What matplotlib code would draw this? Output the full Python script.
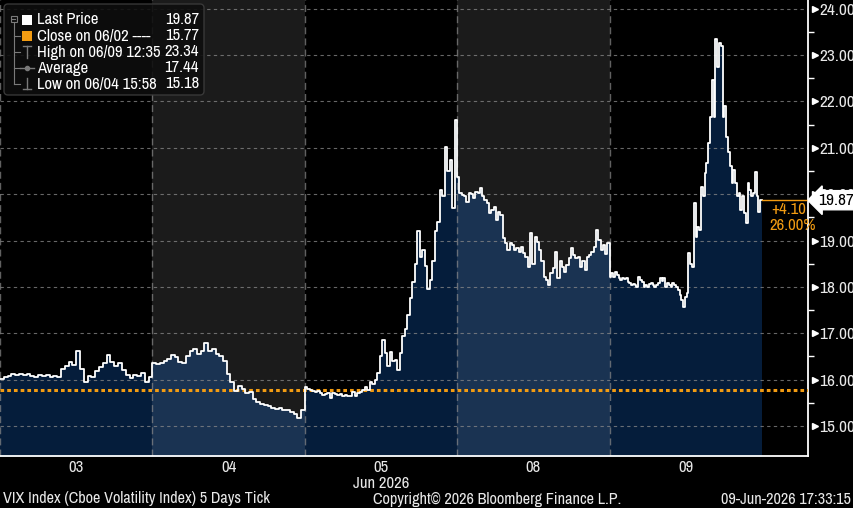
import matplotlib.pyplot as plt
import numpy as np
import matplotlib.transforms as mtransforms
from matplotlib.patches import FancyBboxPatch, Rectangle

plt.rcParams['font.family'] = ['Archivo Narrow', 'Liberation Sans', 'DejaVu Sans']

# --- data ---
day_labels = ['03', '04', '05', '08', '09']
month_label = 'Jun 2026'

day03 = [16.02, 16.05, 16.08, 16.12, 16.10, 16.13, 16.10, 16.11, 16.08, 16.06,
         16.09, 16.07, 16.10, 16.05, 16.07, 16.06, 16.22, 16.30, 16.38, 16.32,
         16.62, 16.22, 15.95, 16.08, 16.05, 16.18, 16.28, 16.35, 16.52, 16.38,
         16.30, 16.36, 16.20, 16.10, 16.03, 16.10, 16.08, 16.15, 15.95, 16.05]
day04 = [16.36, 16.33, 16.35, 16.40, 16.45, 16.52, 16.48, 16.38, 16.35, 16.50,
         16.62, 16.65, 16.55, 16.62, 16.78, 16.62, 16.65, 16.55, 16.50, 16.40,
         16.12, 15.95, 15.75, 15.85, 15.80, 15.72, 15.74, 15.58, 15.52, 15.48,
         15.45, 15.42, 15.38, 15.36, 15.38, 15.34, 15.35, 15.30, 15.26, 15.18,
         15.35]
day05 = [15.84, 15.80, 15.78, 15.75, 15.74, 15.76, 15.70, 15.67, 15.69, 15.72,
         15.60, 15.70, 15.68, 15.66, 15.68, 15.64, 15.66, 15.64, 15.65, 15.74,
         15.65, 15.70, 15.74, 15.78, 15.84, 15.78, 15.95, 15.91, 16.00, 16.14,
         16.50, 16.86, 16.57, 16.30, 16.60, 16.40, 16.42, 16.20, 16.57, 16.95,
         17.10, 17.40, 17.75, 18.10, 18.50, 19.20, 18.65, 18.80, 18.45, 17.95,
         18.15, 18.55, 19.20, 19.40, 20.10, 19.96, 21.02, 20.50, 20.74, 19.70,
         21.60]
day08 = [20.37, 20.03, 19.98, 19.95, 19.84, 20.02, 20.00, 19.92, 20.05, 20.03,
         20.14, 19.95, 19.88, 19.82, 19.60, 19.66, 19.73, 19.45, 19.62, 19.56,
         19.05, 18.95, 18.80, 18.95, 18.90, 18.80, 18.84, 18.76, 18.87, 18.73,
         18.65, 18.43, 19.17, 18.50, 19.08, 18.97, 18.80, 18.55, 18.22, 18.15,
         18.05, 18.30, 18.40, 18.76, 18.20, 18.55, 18.43, 18.33, 18.48, 18.62,
         18.84, 18.69, 18.62, 18.65, 18.43, 18.55, 18.37, 18.65, 18.69, 18.76,
         18.87, 19.23, 19.02, 18.80, 18.90, 18.70, 18.95]
day09 = [18.22, 18.30, 18.22, 18.33, 18.26, 18.19, 18.15, 18.19, 18.17, 18.19,
         18.10, 18.08, 18.04, 18.06, 18.04, 18.00, 18.22, 18.15, 18.10, 18.00,
         18.04, 18.00, 18.06, 18.08, 18.04, 18.00, 18.03, 18.08, 18.19, 18.12,
         18.19, 18.00, 18.08, 18.03, 18.00, 18.08, 18.04, 18.00, 17.93, 17.83,
         17.72, 17.57, 17.79, 17.87,
         18.73, 18.50, 18.43, 19.82, 19.08, 19.30, 19.23, 20.16, 19.95, 20.46,
         20.68, 21.10, 21.67, 22.47, 21.67, 23.34, 22.75, 23.27, 23.20, 21.67,
         21.90, 21.24, 20.90, 20.60, 20.25, 20.53, 20.25, 19.95, 20.03, 19.66,
         19.95, 19.60, 19.38, 20.25, 20.10, 19.95, 20.03, 20.48, 19.95, 19.62,
         19.87]
days = [day03, day04, day05, day08, day09]
shaded = [False, True, False, True, False]

close_price = 15.77
last_price = 19.87
change_abs = '+4.10'
change_pct = '26.00%'
y_ticks = [15, 16, 17, 18, 19, 20, 21, 22, 23, 24]

legend_rows = [('Last Price', '19.87'),
               ('Close on 06/02 ----', '15.77'),
               ('High on 06/09 12:35', '23.34'),
               ('Average', '17.44'),
               ('Low on 06/04 15:58', '15.18')]
footer_left = 'VIX Index (Cboe Volatility Index) 5 Days Tick'
footer_mid = 'Copyright\u00a9 2026 Bloomberg Finance L.P.'
footer_right = '09-Jun-2026 17:33:15'

ORANGE = '#f39c12'
TXT = '#e8e8e8'

fig = plt.figure(figsize=(8.54, 5.08), dpi=100, facecolor='black')
ax = fig.add_axes([0, 52 / 508, 808 / 854, 456 / 508])
ax.set_facecolor('black')
n_days = len(days)
ax.set_xlim(0, 808 / 152.4)
ax.set_ylim(14.35, 24.19)

# backgrounds + area fills per day
x_line, y_line = [], []
for i, vals in enumerate(days):
    n = len(vals)
    xs = i + np.arange(n + 1) / n
    ys = list(vals) + [vals[-1]]
    if shaded[i]:
        ax.axvspan(i, i + 1, color='#1b1b1b', zorder=0, lw=0)
        fc = '#1a3352'
    else:
        fc = '#051d3b'
    ax.fill_between(xs, ys, 14.0, step='post', color=fc, lw=0, zorder=1)
    x_line.extend(xs[:-1])
    y_line.extend(vals)
x_line.append(n_days)
y_line.append(days[-1][-1])

# grid
for v in y_ticks:
    ax.axhline(v, color='#8a8a8a', lw=0.8, dashes=(3, 3), alpha=0.75, zorder=2)
for i in range(n_days):
    ax.axvline(i, color='#8a8a8a', lw=1.0, dashes=(5, 3), alpha=0.7, zorder=2)

ax.axhline(close_price, color=ORANGE, lw=2.2, dashes=(1.2, 1.0), zorder=3)
ax.step(x_line, y_line, where='post', color='white', lw=1.3, zorder=4)

# spines and axes
for s in ['top', 'left']:
    ax.spines[s].set_visible(False)
for s in ['right', 'bottom']:
    ax.spines[s].set_color('white')
    ax.spines[s].set_linewidth(1.3)

ax.yaxis.tick_right()
ax.set_yticks(y_ticks)
ax.set_yticklabels(['%.2f' % v for v in y_ticks])
ax.set_yticks(np.array(y_ticks[:-1]) + 0.5, minor=True)
ax.tick_params(axis='y', which='major', length=0, pad=8, labelcolor=TXT,
               labelsize=12.5)
ax.tick_params(axis='y', which='minor', length=4, width=1, color='white',
               direction='out')
ax.set_xticks(np.arange(n_days) + 0.5)
ax.set_xticklabels(day_labels)
ax.tick_params(axis='x', length=0, pad=3, labelcolor=TXT, labelsize=12)

trans = mtransforms.blended_transform_factory(ax.transAxes, ax.transData)
ax.plot([1.0 + 7 / 808] * len(y_ticks), y_ticks, '>', color='white', ms=5,
        transform=trans, clip_on=False, zorder=5)

# last price tag and change
ax.plot([n_days, ax.get_xlim()[1]], [last_price, last_price], color=ORANGE,
        lw=1, zorder=4)
ax.annotate('%.2f' % last_price, xy=(1.0, last_price), xycoords=trans,
            xytext=(10, 0), textcoords='offset pixels', va='center', ha='left',
            fontsize=12.5, color='black', annotation_clip=False, zorder=10,
            bbox=dict(boxstyle='larrow,pad=0.12', fc='white', ec='white'))
ax.annotate(change_abs, xy=(n_days, last_price), xytext=(9, -9),
            textcoords='offset pixels', va='center', ha='left', fontsize=12,
            color=ORANGE)
ax.annotate(change_pct, xy=(n_days, last_price), xytext=(7, -25),
            textcoords='offset pixels', va='center', ha='left', fontsize=12,
            color=ORANGE)

# overlay in pixel coordinates for legend and footer
ov = fig.add_axes([0, 0, 1, 1], facecolor='none')
ov.set_xlim(0, 854)
ov.set_ylim(508, 0)
ov.axis('off')

ov.add_patch(FancyBboxPatch((4, 4), 200, 91, boxstyle='round,pad=0,rounding_size=4',
                            fc='#0e0e0e', ec='#3c3c3c', lw=1, alpha=0.9))
row_y = [20, 36, 52, 68, 84]
tree = '#7a7a7a'
ov.add_patch(Rectangle((11, 16), 6, 6, fc='none', ec=tree, lw=0.8))
ov.plot([12.5, 15.5], [19, 19], color=tree, lw=0.8)
ov.plot([14, 14], [22, 84], color=tree, lw=0.8)
for yy in row_y[1:]:
    ov.plot([14, 20], [yy, yy], color=tree, lw=0.8)
ov.add_patch(Rectangle((22, 15), 10, 10, fc='white', ec='none'))
ov.add_patch(Rectangle((22, 31), 10, 10, fc=ORANGE, ec='none'))
ov.plot([23, 31], [46, 46], color=tree, lw=1)
ov.plot([27, 27], [46, 58], color=tree, lw=1)
ov.plot([20, 34], [68, 68], color=tree, lw=1)
ov.plot([27], [68], 'o', color=tree, ms=3)
ov.plot([27, 27], [78, 89], color=tree, lw=1)
ov.plot([23, 31], [89, 89], color=tree, lw=1)
for (lab, val), yy in zip(legend_rows, row_y):
    ov.text(37, yy, lab, color='white', fontsize=12, va='center', ha='left')
    ov.text(199, yy, val, color='white', fontsize=12, va='center', ha='right')

ov.text(381, 483, month_label, color=TXT, fontsize=12, ha='center', va='center')
ov.text(3, 499, footer_left, color=TXT, fontsize=11.7, ha='left', va='center')
ov.text(497, 499, footer_mid, color=TXT, fontsize=11.7, ha='center', va='center')
ov.text(851, 499, footer_right, color=TXT, fontsize=11.7, ha='right', va='center')

fig.savefig('out.png', dpi=100, facecolor='black')
